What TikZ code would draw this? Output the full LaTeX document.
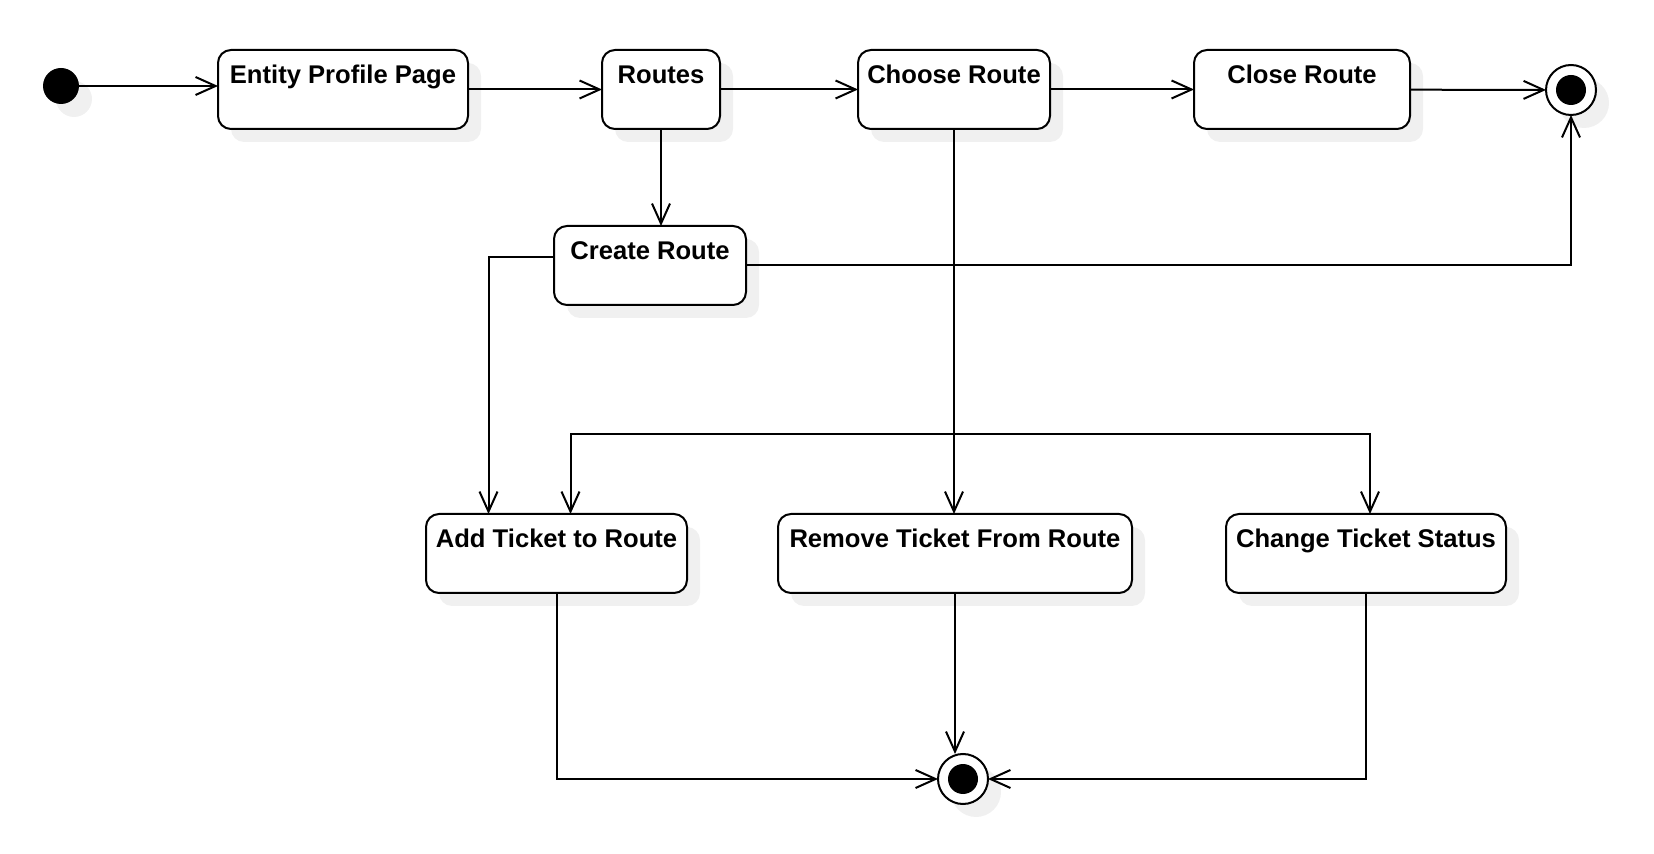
\documentclass[tikz,border=0pt]{standalone}
\usepackage{fontspec}
\setmainfont{Liberation Sans}
\usetikzlibrary{arrows.meta,shadows}
\tikzset{
	softshadow/.style={drop shadow={shadow xshift=6.5pt, shadow yshift=-6.5pt, fill=black!6, opacity=1}},
	state/.style={draw, line width=1pt, rounded corners=6.5pt, fill=white, inner xsep=0pt, inner ysep=0pt, outer sep=0pt,
		text height=17pt, text depth=22.5pt, font=\fontsize{12.8}{15}\selectfont\bfseries, anchor=north west, softshadow},
	initial/.style={circle, fill=black, minimum size=18pt, inner sep=0pt, outer sep=0pt, softshadow},
	final/.style={circle, draw, line width=1pt, fill=white, minimum size=25pt, inner sep=0pt, outer sep=0pt, softshadow},
	flow/.style={line width=1pt, -{Straight Barb[length=10pt,width=9pt]}}
}
\begin{document}
\begin{tikzpicture}[x=0.5pt, y=-0.5pt]
			\useasboundingbox (0,0) rectangle (1654,854);
			\node[initial] (init) at (61,86) {};
			\node[state, minimum width=125pt] (entity) at (218,50) {Entity Profile Page};
			\node[state, minimum width=59pt] (routes) at (602,50) {Routes};
			\node[state, minimum width=96pt] (choose) at (858,50) {Choose Route};
			\node[state, minimum width=108pt] (close) at (1194,50) {Close Route};
			\node[final] (end1) at (1571,90) {};
			\node[state, minimum width=96pt] (create) at (554,226) {Create Route};
			\node[state, minimum width=130.5pt] (add) at (426,514) {Add Ticket to Route};
			\node[state, minimum width=177pt] (remove) at (778,514) {Remove Ticket From Route};
			\node[state, minimum width=140pt] (change) at (1226,514) {Change Ticket Status};
			\node[final] (end2) at (963,779) {};
			\fill (end1) circle (7.5pt);
			\fill (end2) circle (7.5pt);
			\coordinate (fork) at (choose.south |- 0,434);
			\draw[flow] (init.east) -- (init.east -| entity.west);
			\draw[flow] (entity) -- (routes);
			\draw[flow] (routes) -- (choose);
			\draw[flow] (choose) -- (close);
			\draw[flow] (close) -- (end1);
			\draw[flow] (routes.south) -- (routes.south |- create.north);
			\draw[flow] (create.east) -| (end1.south);
			\draw[flow] ([yshift=4pt]create.west) -| ([xshift=-34pt]add.north);
			\draw[flow] (choose.south) -- (choose.south |- remove.north);
			\draw[flow] (fork) -| ([xshift=7pt]add.north);
			\draw[flow] (fork) -| ([xshift=2pt]change.north);
			\draw[flow] (add.south) |- (end2.west);
			\draw[flow] (remove.south) -- (remove.south |- end2.north);
			\draw[flow] (change.south) |- (end2.east);
		\end{tikzpicture}
\end{document}
